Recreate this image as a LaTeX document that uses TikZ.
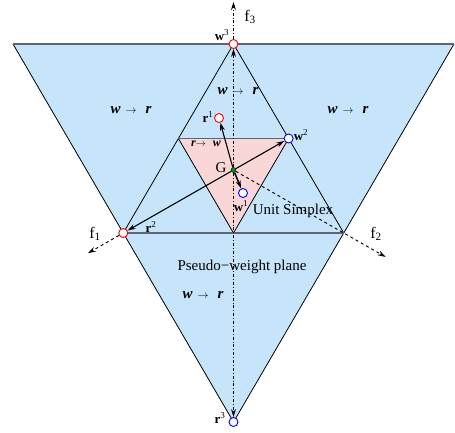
\documentclass[tikz,border=0pt]{standalone}
\usepackage{fontspec}
\setmainfont{Liberation Serif}
\usetikzlibrary{arrows.meta, calc}
\definecolor{cplane}{HTML}{C6E5FA}
\definecolor{csimp}{HTML}{F9D7D7}
\definecolor{cedge}{HTML}{5E6470}
\definecolor{cgreen}{HTML}{0A8A0A}
\newcommand{\vlab}[2]{\textbf{#1}\textsuperscript{#2}}
\newcommand{\maps}[2]{\textbf{\textit{#1}}\hspace{5pt}{\fontsize{11}{11}\selectfont$\rightarrow$}\hspace{9pt}\textbf{\textit{#2}}}
\tikzset{
  every picture/.style={line width=0.8pt},
  edge/.style={draw=black, line width=0.8pt},
  rim/.style={draw=cedge, line width=1.5pt},
  vec/.style={-{Stealth[length=8pt, width=5pt]}, line width=1.1pt},
  axis/.style={-{Stealth[length=8pt, width=5pt]}, dashed, line width=0.9pt},
  vaxis/.style={-{Stealth[length=8pt, width=5pt]}, dash dot, line width=0.9pt},
  pt/.style={circle, draw=#1, fill=white, line width=0.9pt, minimum size=9pt, inner sep=0pt},
  lab/.style={font=\fontsize{13}{13}\selectfont, inner sep=1pt},
  zone/.style={font=\fontsize{15}{15}\selectfont, inner sep=1pt},
  axlab/.style={font=\fontsize{16}{16}\selectfont, inner sep=1pt},
}
\begin{document}
\begin{tikzpicture}[x=1pt, y=-1pt]
  \useasboundingbox (0,0) rectangle (455,432);
  % outer pseudo-weight plane and the two inner triangles
  \coordinate (A1) at (13,44); \coordinate (A2) at (454,44); \coordinate (A3) at (233.5,422);
  \coordinate (M3) at ($(A1)!0.5!(A2)$); \coordinate (M1) at ($(A1)!0.5!(A3)$); \coordinate (M2) at ($(A2)!0.5!(A3)$);
  \coordinate (S1) at ($(M3)!0.5!(M1)$); \coordinate (S2) at ($(M3)!0.5!(M2)$); \coordinate (S3) at ($(M1)!0.5!(M2)$);
  \coordinate (G) at ($(M3)!2/3!(S3)$);
  \fill[cplane] (A1) -- (A2) -- (A3) -- cycle;
  \draw[edge] (A1) -- (A3) -- (A2); \draw[rim] (A1) -- (A2);
  \fill[csimp] (S1) -- (S2) -- (S3) -- cycle;
  \draw[edge] (M1) -- (M3) -- (M2); \draw[edge] (S1) -- (S3) -- (S2);
  \draw[rim] (M1) -- (M2); \draw[rim] (S1) -- (S2);
  % points
  \node[pt=red] (w3) at (M3) {}; \node[pt=red] (r2) at (M1) {};
  \node[pt=blue] (w2) at (S2) {}; \node[pt=blue] (r3) at (A3) {};
  \node[pt=red] (r1) at (219,118) {}; \node[pt=blue] (w1) at (243,193) {};
  \node[circle, fill=cgreen, draw=black, line width=0.4pt, minimum size=5pt, inner sep=0pt] (g) at (G) {};
  % axes
  \coordinate (F1) at ($(G)!1.32!(M1)$); \coordinate (F2) at ($(G)!1.38!(M2)$); \coordinate (F3) at (233.5,2);
  \draw[axis] (r2) -- (F1); \draw[axis] (g) -- (F2);
  \draw[vaxis] (w3) -- (F3); \draw[vaxis] (g) -- (w3); \draw[vaxis] (g) -- (r3);
  % vectors from the centroid
  \draw[vec] (g) -- (r2); \draw[vec] (g) -- (w2); \draw[vec] (g) -- (r1);
  \draw[vec, line width=1.5pt] (g) -- (w1);
  % labels
  \node[lab] (lw3) at (222,35) {\vlab{w}{3}};
  \node[lab] (lr1) at (208,117) {\vlab{r}{1}};
  \node[lab] (lw2) at (301,135) {\vlab{w}{2}};
  \node[lab] (lw1) at (241,206) {\vlab{w}{1}};
  \node[lab] (lr2) at (151,227) {\vlab{r}{2}};
  \node[lab] (lr3) at (220,418) {\vlab{r}{3}};
  \node[font=\fontsize{15}{15}\selectfont, inner sep=1pt] (lG) at (221,168) {G};
  \node[axlab] (lf1) at (95,234) {f\textsubscript{1}};
  \node[axlab] (lf2) at (376,234) {f\textsubscript{2}};
  \node[axlab] (lf3) at (250,17) {f\textsubscript{3}};
  \node[zone] (z1) at (131,110) {\maps{w}{r}};
  \node[zone] (z2) at (348,110) {\maps{w}{r}};
  \node[zone] (z3) at (238,91) {\maps{w}{r}};
  \node[zone] (z4) at (203,295) {\maps{w}{r}};
  \node[font=\fontsize{12}{12}\selectfont, inner sep=1pt] (z5) at (206,144) {\textbf{\textit{r}}{\fontsize{10}{10}\selectfont$\rightarrow$}\hspace{7pt}\textbf{\textit{w}}};
  \node[font=\fontsize{15}{15}\selectfont, inner sep=1pt] (lus) at (293,211) {Unit Simplex};
  \node[font=\fontsize{15}{15}\selectfont, inner sep=1pt] (lpw) at (242,267) {Pseudo−weight plane};
\end{tikzpicture}
\end{document}
